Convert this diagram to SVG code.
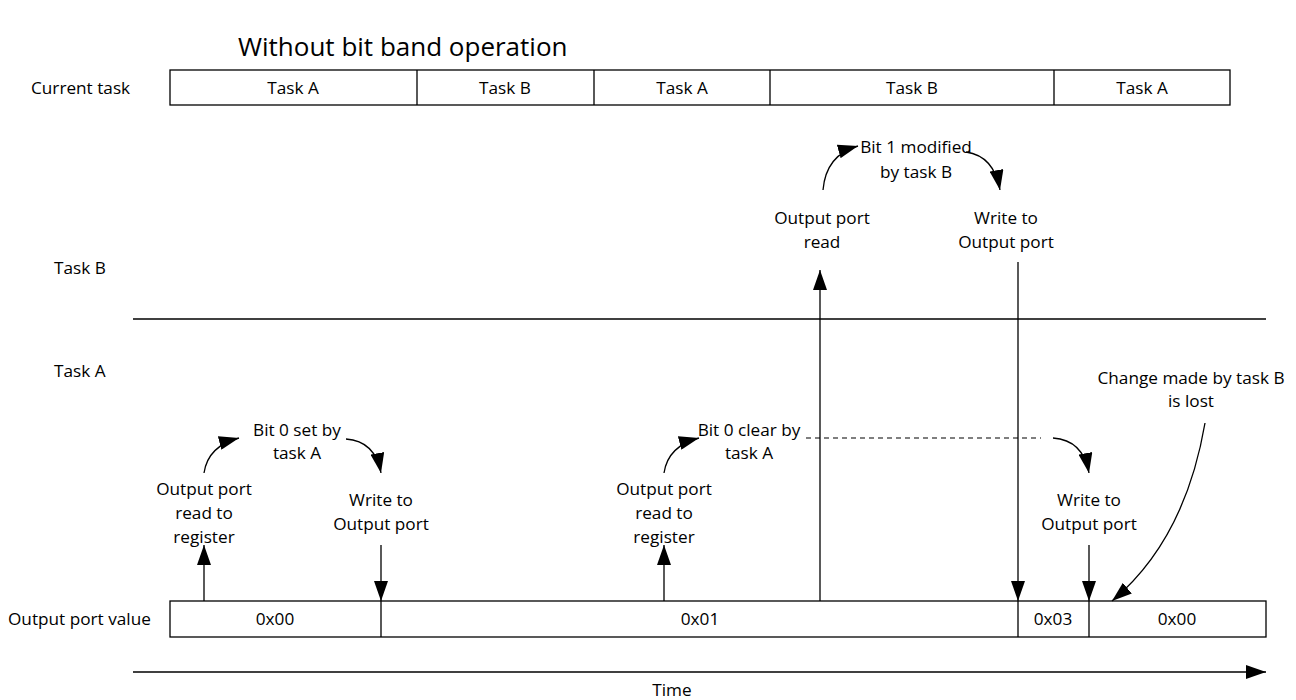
<svg xmlns="http://www.w3.org/2000/svg" width="1296" height="700" viewBox="0 0 1296 700">
<style>
text{font-family:"Open Sans","Noto Sans",sans-serif;font-size:17.2px;fill:#000;}
.c{text-anchor:middle;}
.t{font-size:26px;}
.box{fill:#fff;stroke:#000;stroke-width:1.3;}
.ln{fill:none;stroke:#000;stroke-width:1.3;}
.ar{fill:none;stroke:#000;stroke-width:1.3;marker-end:url(#ah);}
.dash{fill:none;stroke:#000;stroke-width:1.2;stroke-dasharray:5,4;}
</style>
<defs>
<marker id="ah" viewBox="0 0 20 14" refX="20" refY="7" markerWidth="20" markerHeight="14" markerUnits="userSpaceOnUse" orient="auto">
<path d="M0,0 L20,7 L0,14 z" fill="#000"/>
</marker>
</defs>
<rect width="1296" height="700" fill="#fff"/>
<text id="title" class="t" x="238" y="56">Without bit band operation</text>
<g id="labels">
<text x="31" y="94">Current task</text>
<text x="54" y="274">Task B</text>
<text x="54" y="377">Task A</text>
<text x="8" y="625">Output port value</text>
<text class="c" x="672" y="696">Time</text>
</g>
<g id="current-task">
<rect class="box" x="170" y="70" width="1060" height="35"/>
<path class="ln" d="M417,70V105M594,70V105M770,70V105M1054,70V105"/>
<text class="c" x="293" y="94">Task A</text>
<text class="c" x="505" y="94">Task B</text>
<text class="c" x="682" y="94">Task A</text>
<text class="c" x="912" y="94">Task B</text>
<text class="c" x="1142" y="94">Task A</text>
</g>
<g id="separator"><path class="ln" d="M133,319H1266"/></g>
<g id="output-value">
<rect class="box" x="170" y="601" width="1096" height="36"/>
<path class="ln" d="M381,601V637M1018,601V637M1089,601V637"/>
<text class="c" x="275" y="625">0x00</text>
<text class="c" x="700" y="625">0x01</text>
<text class="c" x="1053" y="625">0x03</text>
<text class="c" x="1177" y="625">0x00</text>
</g>
<g id="a1-read">
<text class="c" x="204" y="495">Output port</text>
<text class="c" x="204" y="519">read to</text>
<text class="c" x="204" y="543">register</text>
</g>
<g id="a1-mod">
<text class="c" x="297" y="436">Bit 0 set by</text>
<text class="c" x="297" y="459">task A</text>
</g>
<g id="a1-write">
<text class="c" x="381" y="506">Write to</text>
<text class="c" x="381" y="530">Output port</text>
</g>
<g id="a2-read">
<text class="c" x="664" y="495">Output port</text>
<text class="c" x="664" y="519">read to</text>
<text class="c" x="664" y="543">register</text>
</g>
<g id="a2-mod">
<text class="c" x="749" y="436">Bit 0 clear by</text>
<text class="c" x="749" y="459">task A</text>
</g>
<g id="a2-write">
<text class="c" x="1089" y="506">Write to</text>
<text class="c" x="1089" y="530">Output port</text>
</g>
<g id="b-read">
<text class="c" x="822" y="224">Output port</text>
<text class="c" x="822" y="248">read</text>
</g>
<g id="b-mod">
<text class="c" x="916" y="153">Bit 1 modified</text>
<text class="c" x="916" y="178">by task B</text>
</g>
<g id="b-write">
<text class="c" x="1006" y="224">Write to</text>
<text class="c" x="1006" y="248">Output port</text>
</g>
<g id="lost-note">
<text class="c" x="1191" y="384">Change made by task B</text>
<text class="c" x="1191" y="407">is lost</text>
</g>
<g id="connectors">
<path class="ar" d="M204,601V545"/>
<path class="ar" d="M204,473Q208,446 239,438"/>
<path class="ar" d="M346,439Q375,441 381,473"/>
<path class="ar" d="M381,545V601"/>
<path class="ar" d="M664,601V545"/>
<path class="ar" d="M664,473Q668,446 699,438"/>
<path class="dash" d="M806,438H1041"/>
<path class="ar" d="M1053,438Q1083,440 1089,473"/>
<path class="ar" d="M1089,545V601"/>
<path class="ar" d="M820,601V270"/>
<path class="ar" d="M823,190Q826,155 858,146"/>
<path class="ar" d="M966,152Q994,156 1000,190"/>
<path class="ar" d="M1018,262V601"/>
<path class="ar" d="M1205,423Q1185,540 1112,601"/>
<path class="ar" d="M133,672H1266"/>
</g>
</svg>
